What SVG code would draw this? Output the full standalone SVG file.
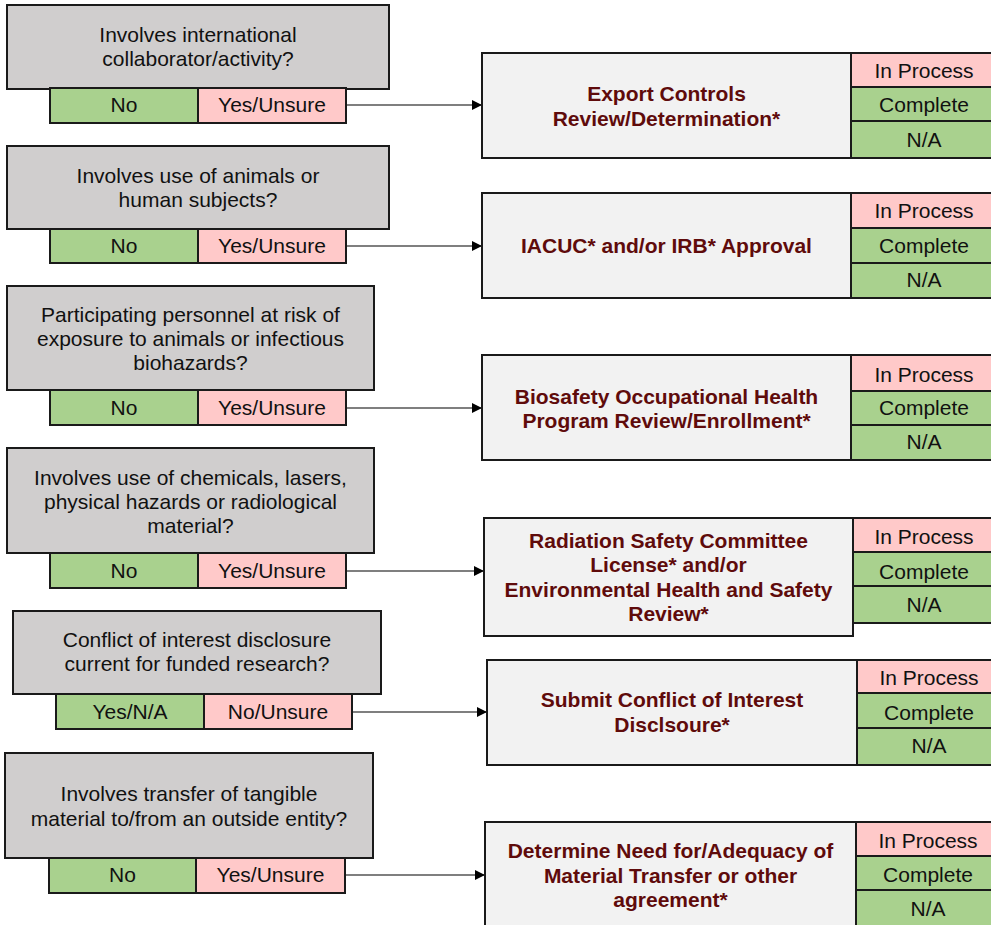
<svg xmlns="http://www.w3.org/2000/svg" width="991" height="925" viewBox="0 0 991 925">
<style>
.q{fill:#d0cece;stroke:#1a1a1a;stroke-width:2}
.g{fill:#a9d18e;stroke:#1a1a1a;stroke-width:2}
.p{fill:#ffc9c9;stroke:#1a1a1a;stroke-width:2}
.r{fill:#f2f2f2;stroke:#1a1a1a;stroke-width:2}
text{font-family:"Liberation Sans",Arial,sans-serif;font-size:21px;text-anchor:middle;fill:#111}
.b{font-weight:bold;fill:#5f0b0b}
.c{stroke:#000;stroke-width:1.2;fill:none;marker-end:url(#ah)}
</style>
<defs>
<marker id="ah" viewBox="0 0 10 10" refX="10" refY="5" markerWidth="10" markerHeight="10" markerUnits="userSpaceOnUse" orient="auto">
<path d="M0,0 L10,5 L0,10 z" fill="#000"/>
</marker>
</defs>
<rect width="991" height="925" fill="#fff"/>

<g id="connectors">
<line class="c" x1="346" y1="105" x2="482" y2="105"/>
<line class="c" x1="346" y1="246" x2="482" y2="246"/>
<line class="c" x1="346" y1="408" x2="482" y2="408"/>
<line class="c" x1="346" y1="571" x2="484" y2="571"/>
<line class="c" x1="352" y1="712" x2="487" y2="712"/>
<line class="c" x1="345" y1="875" x2="485" y2="875"/>
</g>

<g id="q1">
<rect class="q" x="7" y="5" width="382" height="84"/>
<text x="198" y="42">Involves international</text>
<text x="198" y="66">collaborator/activity?</text>
<rect class="g" x="50" y="88" width="148" height="35"/>
<rect class="p" x="198" y="88" width="148" height="35"/>
<text x="124" y="112">No</text>
<text x="272" y="112">Yes/Unsure</text>
</g>
<g id="r1">
<rect class="r" x="482" y="53" width="369" height="105"/>
<text class="b" x="666.5" y="101">Export Controls</text>
<text class="b" x="666.5" y="126">Review/Determination*</text>
<rect class="p" x="851" y="53" width="150" height="34"/>
<rect class="g" x="851" y="87" width="150" height="34"/>
<rect class="g" x="851" y="121" width="150" height="37"/>
<text x="924" y="78">In Process</text>
<text x="924" y="112">Complete</text>
<text x="924" y="147">N/A</text>
</g>

<g id="q2">
<rect class="q" x="7" y="146" width="382" height="83"/>
<text x="198" y="183">Involves use of animals or</text>
<text x="198" y="207">human subjects?</text>
<rect class="g" x="50" y="229" width="148" height="34"/>
<rect class="p" x="198" y="229" width="148" height="34"/>
<text x="124" y="253">No</text>
<text x="272" y="253">Yes/Unsure</text>
</g>
<g id="r2">
<rect class="r" x="482" y="193" width="369" height="105"/>
<text class="b" x="666.5" y="253">IACUC* and/or IRB* Approval</text>
<rect class="p" x="851" y="193" width="150" height="35"/>
<rect class="g" x="851" y="228" width="150" height="35"/>
<rect class="g" x="851" y="263" width="150" height="35"/>
<text x="924" y="218">In Process</text>
<text x="924" y="253">Complete</text>
<text x="924" y="287">N/A</text>
</g>

<g id="q3">
<rect class="q" x="7" y="286" width="367" height="104"/>
<text x="190.5" y="322">Participating personnel at risk of</text>
<text x="190.5" y="346">exposure to animals or infectious</text>
<text x="190.5" y="370">biohazards?</text>
<rect class="g" x="50" y="390" width="148" height="35"/>
<rect class="p" x="198" y="390" width="148" height="35"/>
<text x="124" y="415">No</text>
<text x="272" y="415">Yes/Unsure</text>
</g>
<g id="r3">
<rect class="r" x="482" y="355" width="369" height="105"/>
<text class="b" x="666.5" y="404">Biosafety Occupational Health</text>
<text class="b" x="666.5" y="428">Program Review/Enrollment*</text>
<rect class="p" x="851" y="355" width="150" height="36"/>
<rect class="g" x="851" y="391" width="150" height="34"/>
<rect class="g" x="851" y="425" width="150" height="35"/>
<text x="924" y="382">In Process</text>
<text x="924" y="415">Complete</text>
<text x="924" y="449">N/A</text>
</g>

<g id="q4">
<rect class="q" x="7" y="448" width="367" height="105"/>
<text x="190.5" y="485">Involves use of chemicals, lasers,</text>
<text x="190.5" y="509">physical hazards or radiological</text>
<text x="190.5" y="533">material?</text>
<rect class="g" x="50" y="553" width="148" height="35"/>
<rect class="p" x="198" y="553" width="148" height="35"/>
<text x="124" y="578">No</text>
<text x="272" y="578">Yes/Unsure</text>
</g>
<g id="r4">
<rect class="r" x="484" y="518" width="369" height="118"/>
<text class="b" x="668.5" y="548">Radiation Safety Committee</text>
<text class="b" x="668.5" y="572">License* and/or</text>
<text class="b" x="668.5" y="597">Environmental Health and Safety</text>
<text class="b" x="668.5" y="621">Review*</text>
<rect class="p" x="853" y="518" width="150" height="34"/>
<rect class="g" x="853" y="552" width="150" height="34"/>
<rect class="g" x="853" y="586" width="150" height="37"/>
<text x="924" y="544">In Process</text>
<text x="924" y="579">Complete</text>
<text x="924" y="612">N/A</text>
</g>

<g id="q5">
<rect class="q" x="13" y="611" width="368" height="83"/>
<text x="197" y="647">Conflict of interest disclosure</text>
<text x="197" y="671">current for funded research?</text>
<rect class="g" x="56" y="694" width="148" height="35"/>
<rect class="p" x="204" y="694" width="148" height="35"/>
<text x="130" y="719">Yes/N/A</text>
<text x="278" y="719">No/Unsure</text>
</g>
<g id="r5">
<rect class="r" x="487" y="660" width="370" height="105"/>
<text class="b" x="672" y="707">Submit Conflict of Interest</text>
<text class="b" x="672" y="732">Disclsoure*</text>
<rect class="p" x="857" y="660" width="150" height="33"/>
<rect class="g" x="857" y="693" width="150" height="35"/>
<rect class="g" x="857" y="728" width="150" height="37"/>
<text x="929" y="685">In Process</text>
<text x="929" y="720">Complete</text>
<text x="929" y="753">N/A</text>
</g>

<g id="q6">
<rect class="q" x="5" y="753" width="368" height="105"/>
<text x="189" y="801">Involves transfer of tangible</text>
<text x="189" y="826">material to/from an outside entity?</text>
<rect class="g" x="49" y="858" width="147" height="35"/>
<rect class="p" x="196" y="858" width="149" height="35"/>
<text x="122.5" y="882">No</text>
<text x="270.5" y="882">Yes/Unsure</text>
</g>
<g id="r6">
<rect class="r" x="485" y="822" width="371" height="110"/>
<text class="b" x="670.5" y="858">Determine Need for/Adequacy of</text>
<text class="b" x="670.5" y="883">Material Transfer or other</text>
<text class="b" x="670.5" y="907">agreement*</text>
<rect class="p" x="856" y="822" width="150" height="34"/>
<rect class="g" x="856" y="856" width="150" height="34"/>
<rect class="g" x="856" y="890" width="150" height="40"/>
<text x="928" y="848">In Process</text>
<text x="928" y="882">Complete</text>
<text x="928" y="916">N/A</text>
</g>
</svg>
